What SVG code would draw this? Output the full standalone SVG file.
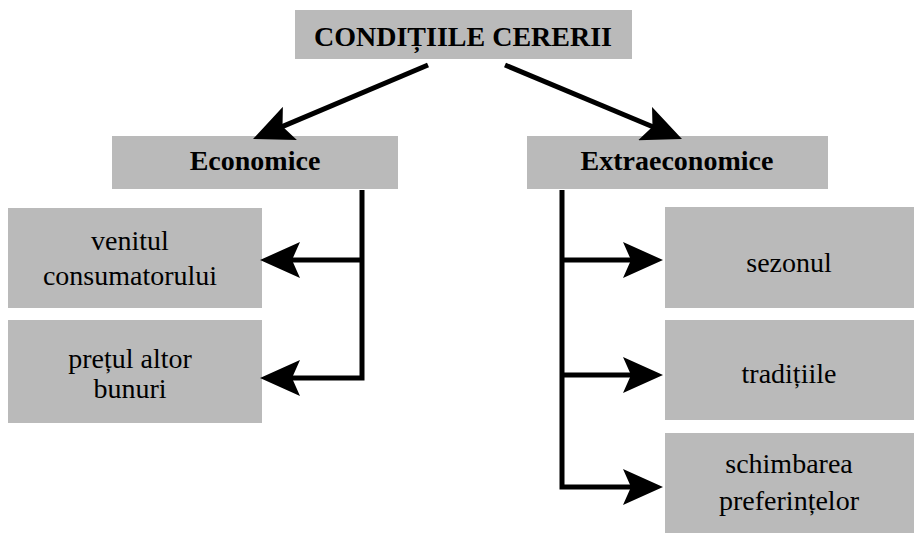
<svg xmlns="http://www.w3.org/2000/svg" width="914" height="533" viewBox="0 0 914 533">
<style>
.box{fill:#bababa;}
.c{fill:none;stroke:#000;stroke-width:5;stroke-linejoin:miter;}
</style>
<defs>
<marker id="ah" viewBox="0 0 40 36" markerWidth="40" markerHeight="36" refX="18" refY="18" orient="auto" markerUnits="userSpaceOnUse">
<path d="M0,0 L40,18 L0,36 L8,18 Z" fill="#000"/>
</marker>
</defs>
<rect width="914" height="533" fill="#fff"/>
<g font-family="Liberation Serif, DejaVu Serif, serif" font-size="28" text-anchor="middle" fill="#000">
<g id="title">
<rect class="box" x="295" y="10" width="337" height="49"/>
<text x="463" y="46" font-weight="bold">CONDIȚIILE CERERII</text>
</g>
<g id="economice">
<rect class="box" x="112" y="136" width="286" height="53"/>
<text x="255" y="170" font-weight="bold">Economice</text>
</g>
<g id="extraeconomice">
<rect class="box" x="527" y="136" width="301" height="53"/>
<text x="677" y="170" font-weight="bold">Extraeconomice</text>
</g>
<g id="venitul">
<rect class="box" x="8" y="208" width="254" height="100"/>
<text x="130" y="250">venitul</text>
<text x="130" y="285">consumatorului</text>
</g>
<g id="pretul">
<rect class="box" x="8" y="320" width="254" height="103"/>
<text x="130" y="368">prețul altor</text>
<text x="130" y="398">bunuri</text>
</g>
<g id="sezonul">
<rect class="box" x="665" y="207" width="249" height="101"/>
<text x="789" y="272">sezonul</text>
</g>
<g id="traditiile">
<rect class="box" x="665" y="320" width="249" height="100"/>
<text x="789" y="383">tradițiile</text>
</g>
<g id="schimbarea">
<rect class="box" x="665" y="433" width="249" height="100"/>
<text x="789" y="473">schimbarea</text>
<text x="789" y="510">preferințelor</text>
</g>
</g>
<g id="connectors">
<line class="c" x1="428" y1="65" x2="273.3" y2="130.4" marker-end="url(#ah)"/>
<line class="c" x1="505" y1="65" x2="661.7" y2="130.5" marker-end="url(#ah)"/>
<path class="c" d="M362,190 V378 H282" marker-end="url(#ah)"/>
<line class="c" x1="362" y1="260" x2="282" y2="260" marker-end="url(#ah)"/>
<path class="c" d="M562,190 V487 H641" marker-end="url(#ah)"/>
<line class="c" x1="562" y1="260" x2="641" y2="260" marker-end="url(#ah)"/>
<line class="c" x1="562" y1="375" x2="641" y2="375" marker-end="url(#ah)"/>
</g>
</svg>
